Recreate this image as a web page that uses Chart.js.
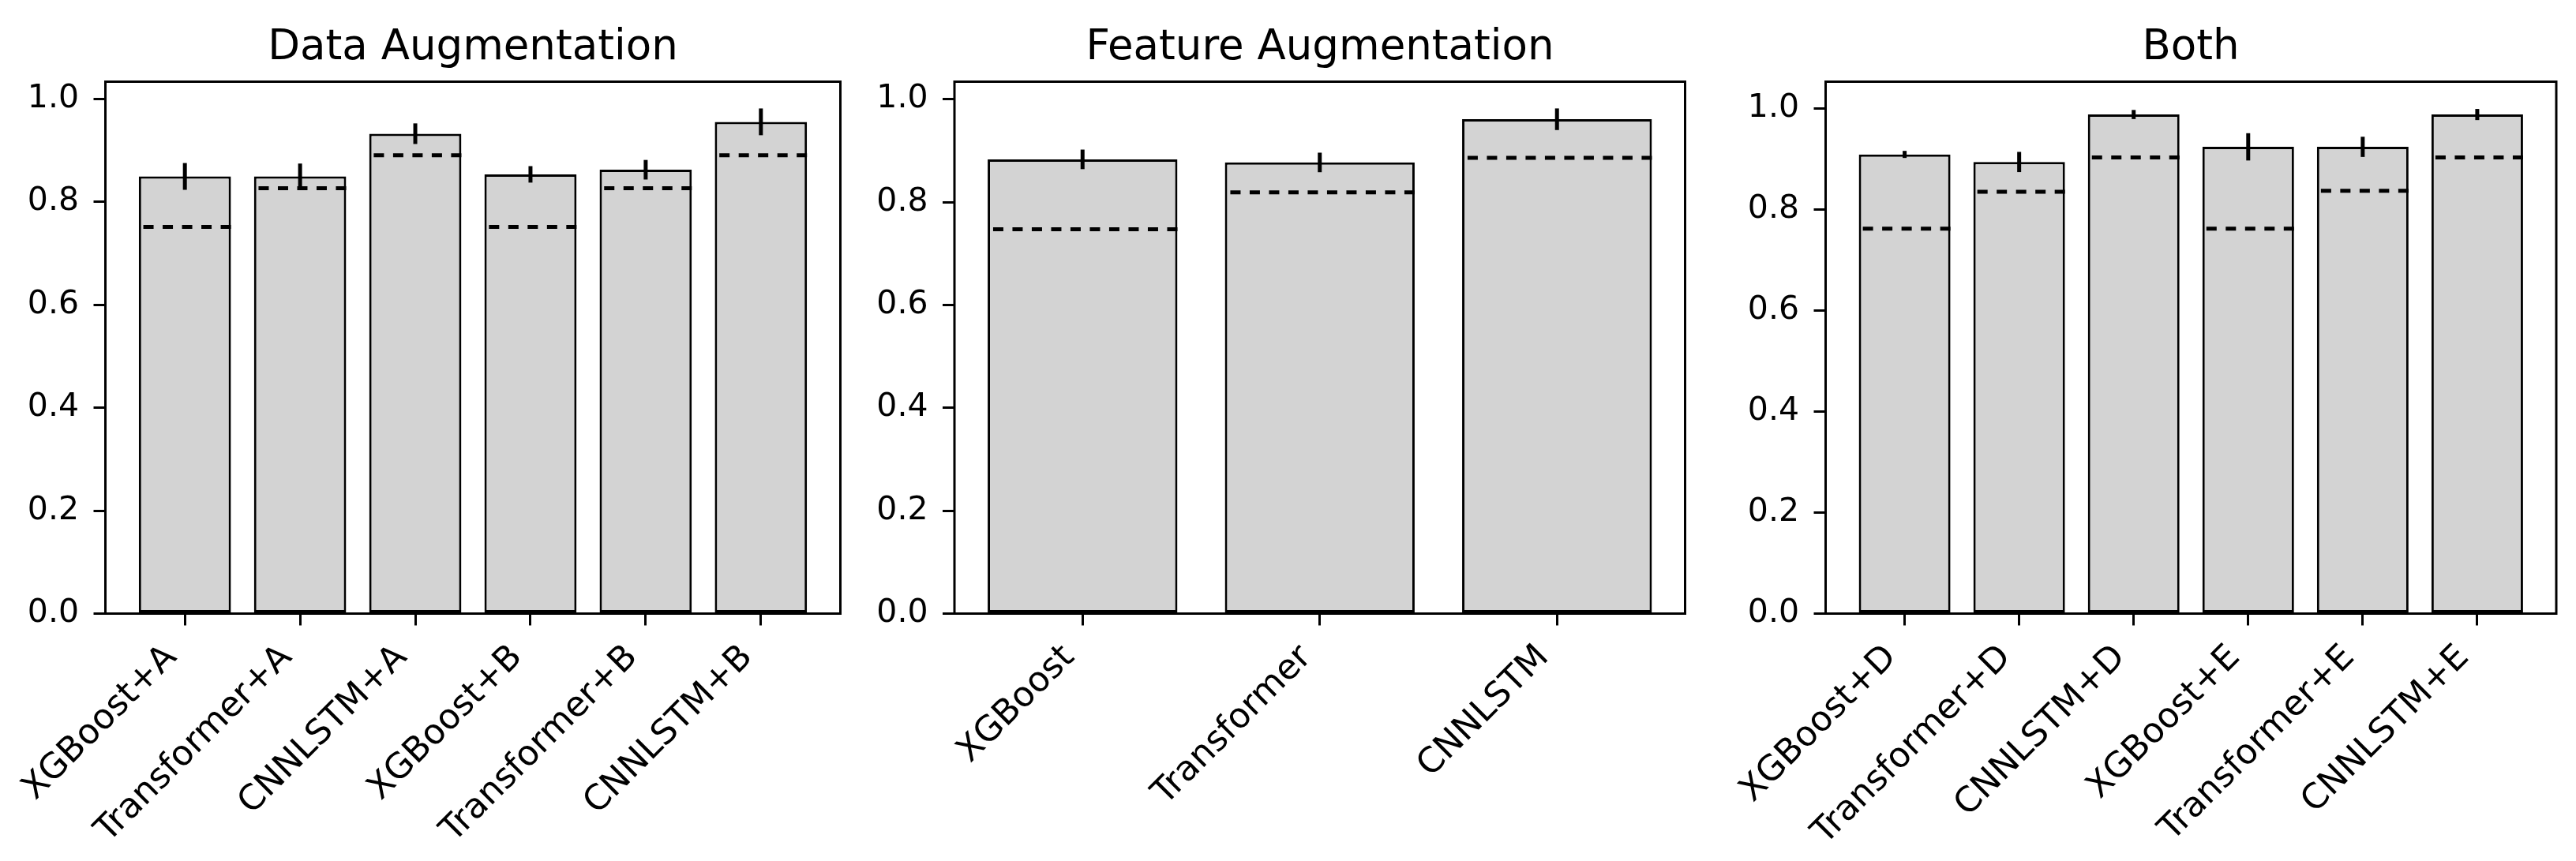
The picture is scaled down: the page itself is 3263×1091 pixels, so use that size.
<!DOCTYPE html>
<html lang="en">
<head>
  <meta charset="UTF-8">
  <title>Augmentation results</title>
  <script src="https://cdn.jsdelivr.net/npm/chart.js"></script>
  <style>
    html, body { margin: 0; padding: 0; background: #fff; overflow: hidden; }
    #page { position: relative; width: 3263px; height: 1091px; overflow: hidden; }
    canvas { position: absolute; top: 0; }
  </style>
</head>
<body>
  <div id="page">
    <canvas id="panel1" width="1198" height="1091" style="left:0px;width:1198px;height:1091px"></canvas>
    <canvas id="panel2" width="1200" height="1091" style="left:1072px;width:1200px;height:1091px"></canvas>
    <canvas id="panel3" width="1200" height="1091" style="left:2175px;width:1200px;height:1091px"></canvas>
  </div>

  <script>
    // values
    const dataAugLabels = ["XGBoost+A", "Transformer+A", "CNNLSTM+A", "XGBoost+B", "Transformer+B", "CNNLSTM+B"];
    const dataAugMeans = [0.849, 0.849, 0.932, 0.853, 0.862, 0.955];
    const dataAugErrors = [0.026, 0.025, 0.020, 0.016, 0.019, 0.026];
    const dataAugBaselines = [0.751, 0.826, 0.890, 0.751, 0.826, 0.890];

    const featAugLabels = ["XGBoost", "Transformer", "CNNLSTM"];
    const featAugMeans = [0.883, 0.877, 0.961];
    const featAugErrors = [0.019, 0.019, 0.021];
    const featAugBaselines = [0.747, 0.819, 0.886];

    const bothLabels = ["XGBoost+D", "Transformer+D", "CNNLSTM+D", "XGBoost+E", "Transformer+E", "CNNLSTM+E"];
    const bothMeans = [0.909, 0.894, 0.988, 0.924, 0.924, 0.988];
    const bothErrors = [0.007, 0.020, 0.009, 0.027, 0.020, 0.011];
    const bothBaselines = [0.762, 0.835, 0.903, 0.762, 0.837, 0.903];

    const yTickValues = [0, 0.2, 0.4, 0.6, 0.8, 1.0];

    Chart.defaults.font.family = "'DejaVu Sans', sans-serif";
    Chart.defaults.color = "#000";

    // error bars, dashed reference lines and the axes frame
    function extrasPlugin(means, errors, baselines) {
      return {
        id: "extras",
        afterDatasetsDraw(chart) {
          const ctx = chart.ctx;
          const x = chart.scales.x;
          const y = chart.scales.y;
          const area = chart.chartArea;
          ctx.save();
          ctx.strokeStyle = "#000";
          ctx.lineWidth = 5;
          errors.forEach((e, i) => {
            const px = x.getPixelForValue(i);
            ctx.beginPath();
            ctx.moveTo(px, y.getPixelForValue(means[i] - e));
            ctx.lineTo(px, y.getPixelForValue(means[i] + e));
            ctx.stroke();
          });
          ctx.setLineDash([13, 11.5]);
          baselines.forEach((b, i) => {
            const py = y.getPixelForValue(b);
            ctx.beginPath();
            ctx.moveTo(x.getPixelForValue(i + 0.4), py);
            ctx.lineTo(x.getPixelForValue(i - 0.4), py);
            ctx.stroke();
          });
          ctx.setLineDash([]);
          ctx.lineWidth = 3;
          ctx.strokeRect(area.left, area.top, area.right - area.left, area.bottom - area.top);
          ctx.restore();
        }
      };
    }

    function drawPanel(id, title, labels, means, errors, baselines, xMin, xMax, yMax, yWidth, padRight) {
      const ctx = document.getElementById(id).getContext("2d");
      new Chart(ctx, {
        type: "bar",
        data: {
          datasets: [{
            data: means.map((v, i) => ({ x: i, y: v })),
            backgroundColor: "#d3d3d3",
            borderColor: "#000",
            borderWidth: 3,
            borderSkipped: false,
            barPercentage: 0.8,
            categoryPercentage: 1.0
          }]
        },
        options: {
          responsive: false,
          animation: false,
          devicePixelRatio: 1,
          layout: { padding: 0 },
          plugins: {
            legend: { display: false },
            tooltip: { enabled: false },
            title: {
              display: true,
              text: title,
              color: "#000",
              font: { size: 53, weight: "normal" },
              padding: { top: 29.5, bottom: 10.4 }
            }
          },
          scales: {
            x: {
              type: "linear",
              min: xMin,
              max: xMax,
              offset: false,
              border: { display: false },
              grid: { display: true, offset: false, drawOnChartArea: false, drawTicks: true, tickLength: 15, tickColor: "#000", lineWidth: 3 },
              afterBuildTicks: scale => { scale.ticks = labels.map((_, i) => ({ value: i })); },
              afterFit: scale => { scale.height = 313.5; },
              ticks: {
                autoSkip: false,
                minRotation: 45,
                maxRotation: 45,
                padding: 15,
                labelOffset: -17,
                color: "#000",
                font: { size: 44 },
                callback: v => labels[v]
              }
            },
            y: {
              min: 0,
              max: yMax,
              border: { display: false },
              grid: { display: true, drawOnChartArea: false, drawTicks: true, tickLength: 15, tickColor: "#000", lineWidth: 3 },
              afterBuildTicks: scale => { scale.ticks = yTickValues.map(v => ({ value: v })); },
              afterFit: scale => { scale.width = yWidth; },
              ticks: {
                padding: 18.5,
                color: "#000",
                font: { size: 41 },
                callback: v => v.toFixed(1)
              }
            },
            // empty right-hand axis, only keeps the plot centred under its title
            yRight: {
              position: "right",
              display: true,
              border: { display: false },
              grid: { display: false },
              ticks: { display: false },
              afterFit: scale => { scale.width = padRight; }
            }
          }
        },
        plugins: [extrasPlugin(means, errors, baselines)]
      });
    }

    drawPanel("panel1", "Data Augmentation", dataAugLabels, dataAugMeans, dataAugErrors, dataAugBaselines, -0.69, 5.69, 1.033, 133.5, 133.5);
    drawPanel("panel2", "Feature Augmentation", featAugLabels, featAugMeans, featAugErrors, featAugBaselines, -0.54, 2.54, 1.034, 137, 137.5);
    drawPanel("panel3", "Both", bothLabels, bothMeans, bothErrors, bothBaselines, -0.69, 5.69, 1.053, 137.5, 137);
  </script>
</body>
</html>
